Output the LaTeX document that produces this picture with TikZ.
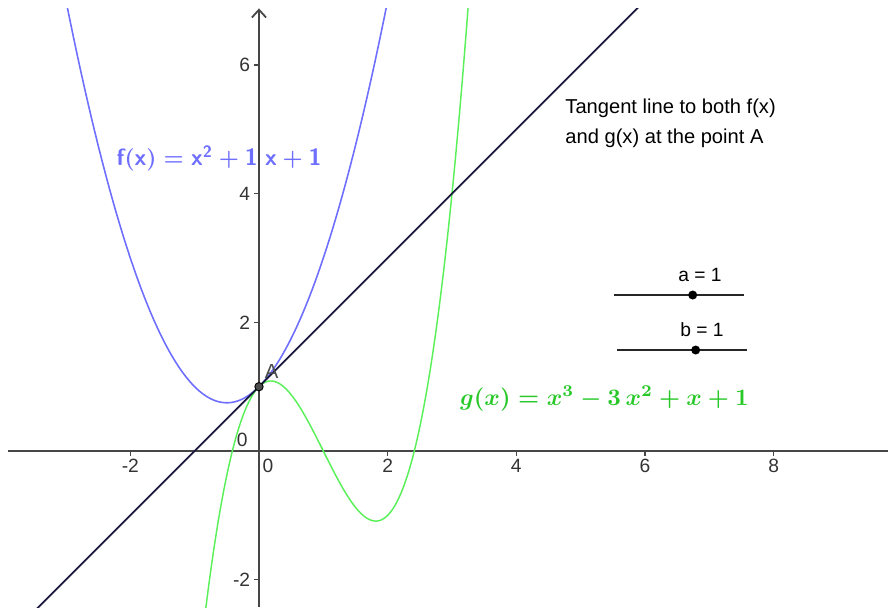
\documentclass[tikz,border=0pt]{standalone}
\usepackage{graphicx}
\usepackage{fontspec}
\newfontfamily\arialf{Liberation Sans}
\usetikzlibrary{arrows.meta}
\definecolor{fblue}{RGB}{110,110,255}
\definecolor{gline}{RGB}{90,240,90}
\definecolor{glabel}{RGB}{40,200,40}
\definecolor{tnavy}{RGB}{25,25,60}
\definecolor{axisgray}{RGB}{70,70,70}
\begin{document}
\begin{tikzpicture}[x=1cm,y=1cm,
  axisline/.style={draw=axisgray, line width=0.8pt},
  tickmark/.style={draw=axisgray, line width=0.6pt},
  ticklab/.style={font=\arialf\fontsize{8.5}{10}\selectfont, text=black!80, inner sep=0pt},
  fcurve/.style={draw=fblue, line width=0.7pt},
  gcurve/.style={draw=gline, line width=0.65pt},
  tline/.style={draw=tnavy, line width=0.8pt},
  sliderline/.style={draw=black!85, line width=0.6pt},
  sliderdot/.style={circle, fill=black, inner sep=0pt, minimum size=0.14cm},
  smalltext/.style={font=\arialf\fontsize{8.5}{10}\selectfont, text=black, inner sep=0pt},
  bigtext/.style={font=\arialf\fontsize{8.9}{13.3}\selectfont, text=black, inner sep=0pt, align=left}]
\useasboundingbox (-4.026,-2.425) rectangle (9.778,7.011);
\begin{scope}
\clip (-4.026,-2.425) rectangle (9.778,6.886);
% axes
\draw[axisline] (-3.9,0) -- (9.778,0);
\draw[axisline, -{Straight Barb[length=1.2mm,width=2.2mm]}] (0,-2.425) -- (0,6.88);
\foreach \t in {-2,2,4,6,8} \draw[tickmark] (\t,0) -- (\t,-0.07);
\foreach \t in {-2,2,4,6} \draw[tickmark] (0,\t) -- (-0.08,\t);
% tick labels
\node[ticklab, anchor=base] (xm2) at (-2,-0.34) {-2};
\node[ticklab, anchor=base] (x0) at (0.14,-0.34) {0};
\node[ticklab, anchor=base] (x2) at (2,-0.34) {2};
\node[ticklab, anchor=base] (x4) at (4,-0.34) {4};
\node[ticklab, anchor=base] (x6) at (6,-0.34) {6};
\node[ticklab, anchor=base] (x8) at (8,-0.34) {8};
\node[ticklab, anchor=east] (y6) at (-0.13,6) {6};
\node[ticklab, anchor=east] (y4) at (-0.13,4) {4};
\node[ticklab, anchor=east] (y2) at (-0.13,2) {2};
\node[ticklab, anchor=east] (ym2) at (-0.13,-2) {-2};
\node[ticklab] (y0) at (-0.26,0.17) {0};
% curves
\draw[fcurve] plot[domain=-3.1:2.1, samples=200, smooth] (\x, {\x*\x+\x+1});
\draw[gcurve] plot[domain=-0.9:3.32, samples=250, smooth] (\x, {\x*\x*\x-3*\x*\x+\x+1});
\draw[tline] (-3.6,-2.6) -- (6.2,7.2);
\end{scope}
% point A
\node[circle, fill=black!70, draw=black, line width=0.4pt, inner sep=0pt, minimum size=0.13cm] (A) at (0,1) {};
\node[font=\arialf\fontsize{9}{10}\selectfont, text=black!70, inner sep=0pt] (Alab) at (0.195,1.236) {A};
% labels
\node[anchor=base west, inner sep=0pt, text=fblue, font=\fontsize{10.4}{13}\selectfont\sffamily\bfseries\boldmath] (flab) at (-2.22,4.44)
  {$\mathsf{f(x)} = \mathsf{x}^{\mathsf{2}} + \mathsf{1}\;\mathsf{x} + \mathsf{1}$};
\node[anchor=base west, inner sep=0pt, text=glabel, font=\fontsize{10.2}{13}\selectfont\boldmath] (glab) at (3.12,0.715)
  {\scalebox{1.045}{$g(x) = x^3 - 3\,x^2 + x + 1$}};
\node[bigtext, anchor=base west] (tt1) at (4.757,5.254) {Tangent line to both f(x)};
\node[bigtext, anchor=base west] (tt2) at (4.757,4.788) {and g(x) at the point A};
% sliders
\coordinate (a1) at (5.518,2.425);
\coordinate (a2) at (7.539,2.425);
\draw[sliderline] (a1) -- (a2);
\node[sliderdot] (adot) at (6.742,2.425) {};
\node[smalltext, anchor=base] (alab) at (6.855,2.63) {a = 1};
\coordinate (b1) at (5.570,1.570);
\coordinate (b2) at (7.581,1.570);
\draw[sliderline] (b1) -- (b2);
\node[sliderdot] (bdot) at (6.788,1.570) {};
\node[smalltext, anchor=base] (blab) at (6.886,1.777) {b = 1};
\end{tikzpicture}
\end{document}
